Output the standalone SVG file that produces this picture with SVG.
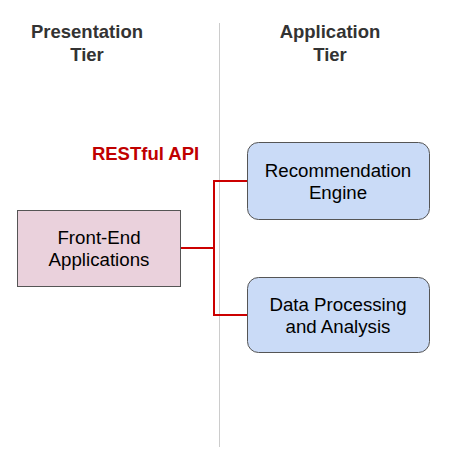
<svg xmlns="http://www.w3.org/2000/svg" width="453" height="470" viewBox="0 0 453 470">
<style>
.hdr{font-family:"Liberation Sans",Arial,sans-serif;font-size:18.5px;font-weight:bold;fill:#333;text-anchor:middle}
.lbl{font-family:"Liberation Sans",Arial,sans-serif;font-size:18.7px;fill:#000;text-anchor:middle}
.api{font-family:"Liberation Sans",Arial,sans-serif;font-size:18.5px;font-weight:bold;fill:#c00000;text-anchor:middle}
.blue{fill:#cadbf7;stroke:#555;stroke-width:1}
.pink{fill:#ead1dc;stroke:#555;stroke-width:1}
.conn{fill:none;stroke:#cc0000;stroke-width:2}
</style>
<rect width="453" height="470" fill="#fff"/>
<line x1="219.5" y1="23" x2="219.5" y2="447" stroke="#ccc" stroke-width="1"/>
<g id="hdr-presentation">
<text class="hdr" x="87" y="38">Presentation</text>
<text class="hdr" x="87" y="61">Tier</text>
</g>
<g id="hdr-application">
<text class="hdr" x="330" y="38">Application</text>
<text class="hdr" x="330" y="61">Tier</text>
</g>
<g id="connectors">
<path class="conn" d="M181,248 H214 M247,181 H214 V315 H247"/>
<text class="api" x="145.5" y="160">RESTful API</text>
</g>
<g id="frontend">
<rect class="pink" x="17.5" y="210.5" width="163" height="76"/>
<text class="lbl" x="99" y="244">Front-End</text>
<text class="lbl" x="99" y="266">Applications</text>
</g>
<g id="recommendation">
<rect class="blue" x="247.5" y="142.5" width="182" height="77" rx="11"/>
<text class="lbl" x="338" y="177">Recommendation</text>
<text class="lbl" x="338" y="199">Engine</text>
</g>
<g id="dataprocessing">
<rect class="blue" x="247.5" y="277.5" width="182" height="75" rx="11"/>
<text class="lbl" x="338" y="311">Data Processing</text>
<text class="lbl" x="338" y="333">and Analysis</text>
</g>
</svg>
